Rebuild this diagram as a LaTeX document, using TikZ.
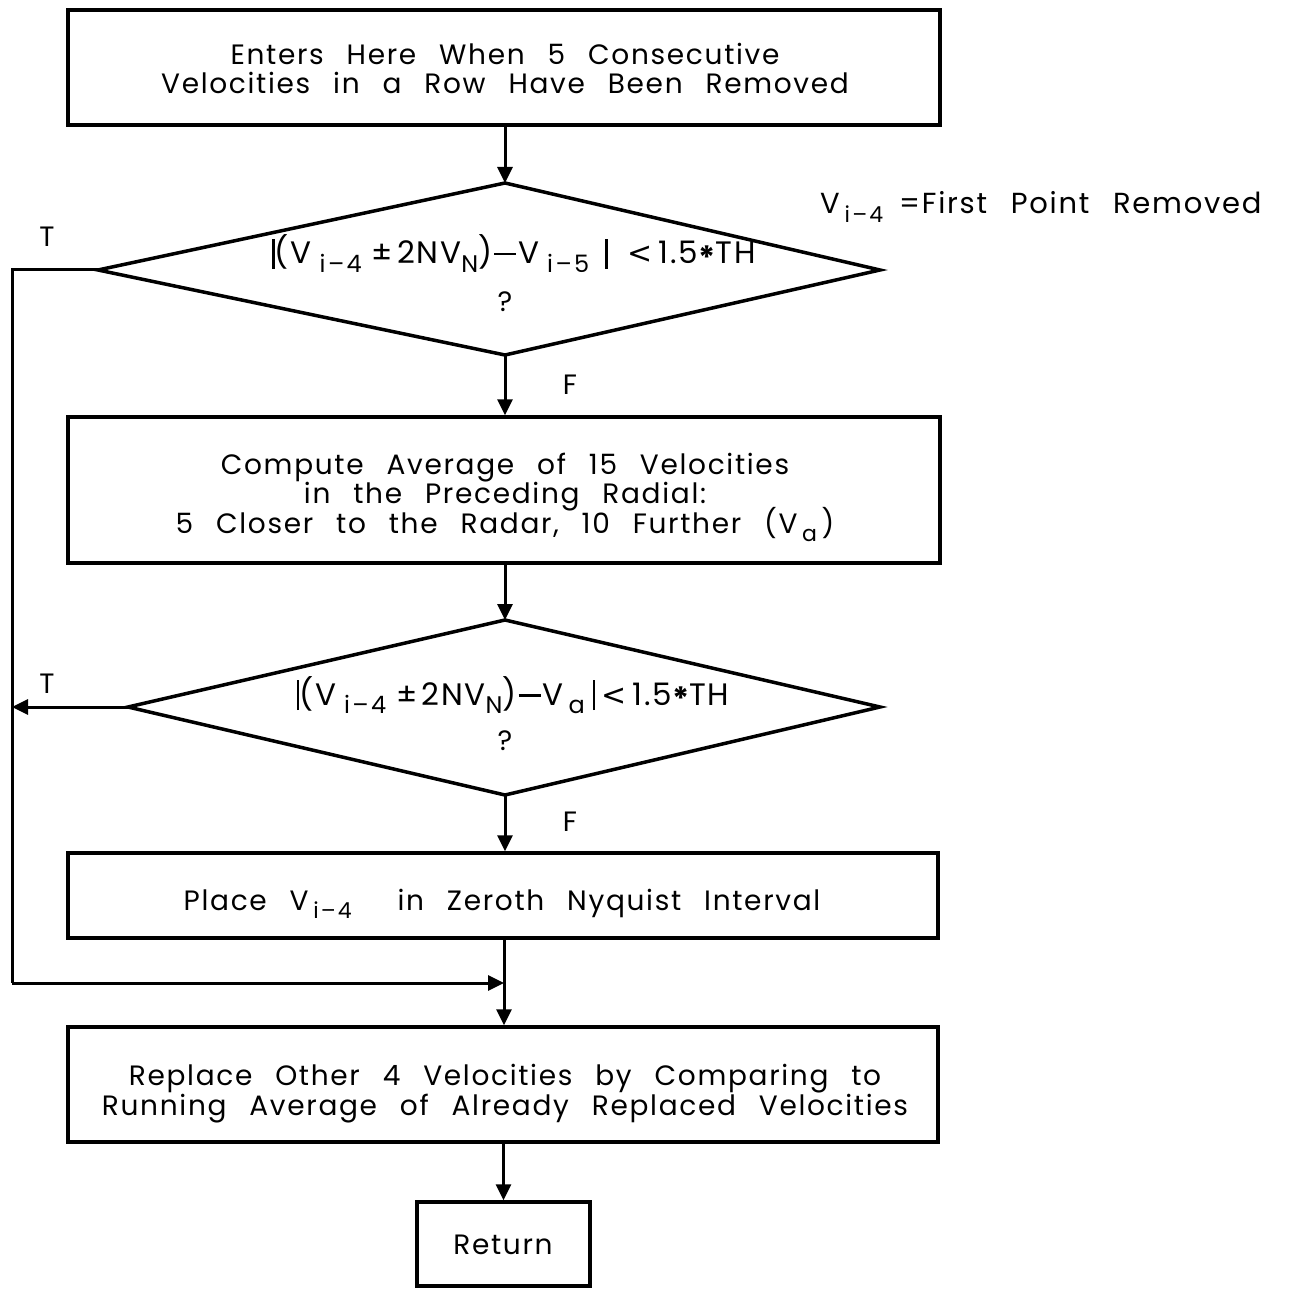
\documentclass[tikz,border=0pt]{standalone}
\usepackage{fontspec}
\setmainfont{Poppins}[LetterSpace=6,WordSpace=2.5]
\newfontfamily\subfont{Poppins}[LetterSpace=10]
\newfontfamily\dejavu{DejaVu Sans}
\usetikzlibrary{arrows.meta}
\newcommand{\mysub}[1]{\raisebox{-0.55ex}{\subfont\fontsize{22}{22}\selectfont #1}}
\newcommand{\fsub}[1]{\raisebox{-0.5ex}{\subfont\fontsize{24}{24}\selectfont #1}}
\newcommand{\mybar}{\rule[-5pt]{2.4pt}{30pt}}
\newcommand{\myminus}{\hspace{2pt}\rule[8.5pt]{22pt}{2.6pt}\hspace{2pt}}
\newcommand{\myless}{{\dejavu\fontsize{30}{30}\selectfont <}}
\newcommand{\myast}{\raisebox{-0.3ex}{\fontsize{32}{32}\selectfont\bfseries *}}
\begin{document}
\begin{tikzpicture}[x=1pt,y=-1pt,
  every node/.style={font=\fontsize{28}{29.5}\selectfont},
  box/.style={draw,line width=3.5pt,align=center,inner sep=0pt},
  ln/.style={line width=3pt},
  arr/.style={line width=3pt,-{Triangle[length=16pt,width=15pt]}},
  lbl/.style={inner sep=0pt},
  frm/.style={inner sep=0pt,anchor=base,font=\fontsize{31}{31}\selectfont}]
\useasboundingbox (0,0) rectangle (1293,1289);
% boxes
\node[box,minimum width=872pt,minimum height=115pt] (b1) at (504,67.5) {};
\node[lbl,anchor=base] (b1t) at (505,65) {Enters Here When 5 Consecutive};
\node[lbl,anchor=base] (b1u) at (505,94) {Velocities in a Row Have Been Removed};
\node[box,minimum width=872pt,minimum height=146pt] (b2) at (504,490) {};
\node[lbl,anchor=base] (b2t) at (505,474) {Compute Average of 15 Velocities};
\node[lbl,anchor=base] (b2u) at (505,503) {in the Preceding Radial:};
\node[lbl,anchor=base] (b2v) at (505,533) {5 Closer to the Radar, 10 Further (V\,\mysub{a}\,)};
\node[box,minimum width=870pt,minimum height=85pt] (b3) at (503,895.5) {};
\node[lbl,anchor=base] (b3t) at (502,910) {Place V\,\mysub{i–4}\ \ in Zeroth Nyquist Interval};
\node[box,minimum width=870pt,minimum height=115pt] (b4) at (503,1084.5) {};
\node[lbl,anchor=base] (b4t) at (505,1085) {Replace Other 4 Velocities by Comparing to};
\node[lbl,anchor=base] (b4u) at (505,1115) {Running Average of Already Replaced Velocities};
\node[box,minimum width=173pt,minimum height=84pt] (ret) at (503.5,1244) {};
\node[lbl,anchor=base] (rett) at (503,1254) {Return};
% diamonds
\coordinate (d1t) at (505,183); \coordinate (d1l) at (98,270);
\coordinate (d1r) at (880,270); \coordinate (d1b) at (505,355);
\draw[line width=3.5pt,line join=miter] (d1t) -- (d1r) -- (d1b) -- (d1l) -- cycle;
\node[frm] (q1) at (514,264) {\mybar(V\hspace{8pt}\fsub{i–4}\hspace{10pt}±\hspace{4pt}2NV\fsub{N})\myminus V\hspace{8pt}\fsub{i–5}\hspace{16pt}\mybar\hspace{20pt}\myless\hspace{6pt}1.5\myast TH};
\node[lbl,anchor=base] (q1b) at (505,312) {?};
\coordinate (d2t) at (505,620); \coordinate (d2l) at (128,707);
\coordinate (d2r) at (880,707); \coordinate (d2b) at (505,795);
\draw[line width=3.5pt,line join=miter] (d2t) -- (d2r) -- (d2b) -- (d2l) -- cycle;
\node[frm] (q2) at (513,705) {\mybar(V\hspace{8pt}\fsub{i–4}\hspace{10pt}±\hspace{4pt}2NV\fsub{N})\myminus V\hspace{5pt}\fsub{a}\hspace{8pt}\mybar\hspace{6pt}\myless\hspace{6pt}1.5\myast TH};
\node[lbl,anchor=base] (q2b) at (505,750) {?};
% annotation
\node[lbl,anchor=base west,font=\fontsize{29}{29}\selectfont] (note) at (820,214) {V\,\mysub{i–4}\hspace{16pt}=First Point Removed};
% labels
\node[lbl,anchor=base] (t1) at (47,247) {T};
\node[lbl,anchor=base] (t2) at (47,693) {T};
\node[lbl,anchor=base] (f1) at (570,394) {F};
\node[lbl,anchor=base] (f2) at (570,831) {F};
% connectors
\coordinate (lx1) at (12,270);
\coordinate (lx2) at (12,707);
\coordinate (lx3) at (12,983);
\coordinate (jn) at (504,983);
\draw[arr] (b1.south -| d1t) -- (d1t);
\draw[arr] (d1b) -- (b2.north -| d1b);
\draw[arr] (b2.south -| d2t) -- (d2t);
\draw[arr] (d2b) -- (b3.north -| d2b);
\draw[ln,line join=miter] (d1l) -- (lx1) -- (lx3);
\draw[arr] (lx3) -- (jn);
\draw[arr] (d2l) -- (lx2);
\draw[arr] (b3.south -| jn) -- (b4.north -| jn);
\draw[arr] (b4.south -| ret.north) -- (ret.north);
\end{tikzpicture}
\end{document}
